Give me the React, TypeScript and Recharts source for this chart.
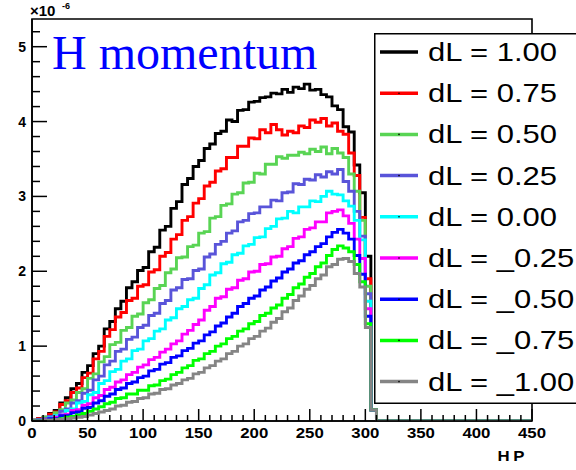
import React from 'react';
import {
  LineChart,
  Line,
  XAxis,
  YAxis,
  ReferenceArea,
  Legend
} from 'recharts';

// histogram bin low edges (width 5), plus the end of the range
const BIN_EDGES = [...Array.from({ length: 63 }, (_, i) => i * 5), 450];

// values in units of 1e-6, one per bin (0..310), then 0 at 450
const DL_P100 = [
  0.01, 0.03, 0.05, 0.10, 0.14, 0.24, 0.31, 0.43, 0.50, 0.65,
  0.74, 0.90, 1.00, 1.23, 1.33, 1.50, 1.60, 1.78, 1.86, 2.01,
  2.05, 2.26, 2.32, 2.55, 2.60, 2.84, 2.93, 3.16, 3.24, 3.40,
  3.48, 3.64, 3.70, 3.84, 3.87, 4.02, 4.00, 4.15, 4.16, 4.26,
  4.27, 4.32, 4.33, 4.38, 4.37, 4.43, 4.39, 4.46, 4.44, 4.50,
  4.42, 4.43, 4.36, 4.33, 4.21, 4.16, 3.93, 3.86, 3.42, 3.05,
  2.20, 0.15, 0, 0
];
const DL_P075 = [
  0.01, 0.03, 0.04, 0.09, 0.12, 0.22, 0.27, 0.38, 0.44, 0.58,
  0.64, 0.83, 0.93, 1.13, 1.22, 1.39, 1.45, 1.61, 1.64, 1.80,
  1.82, 1.99, 2.02, 2.20, 2.25, 2.43, 2.49, 2.68, 2.73, 2.91,
  2.97, 3.14, 3.19, 3.34, 3.37, 3.52, 3.52, 3.67, 3.67, 3.78,
  3.77, 3.89, 3.85, 3.96, 3.89, 3.82, 3.87, 3.85, 3.94, 3.92,
  4.02, 3.99, 4.04, 3.94, 3.98, 3.87, 3.83, 3.58, 3.28, 2.72,
  1.90, 0.15, 0, 0
];
const DL_P050 = [
  0.01, 0.02, 0.05, 0.06, 0.11, 0.15, 0.24, 0.28, 0.38, 0.43,
  0.57, 0.63, 0.79, 0.86, 1.02, 1.05, 1.21, 1.25, 1.40, 1.43,
  1.58, 1.62, 1.77, 1.81, 1.98, 2.03, 2.18, 2.19, 2.33, 2.35,
  2.51, 2.53, 2.71, 2.73, 2.88, 2.90, 3.03, 3.05, 3.18, 3.19,
  3.31, 3.30, 3.43, 3.43, 3.53, 3.51, 3.55, 3.55, 3.59, 3.57,
  3.63, 3.60, 3.66, 3.57, 3.64, 3.58, 3.52, 3.30, 3.07, 2.68,
  1.80, 0.15, 0, 0
];
const DL_P025 = [
  0.01, 0.01, 0.03, 0.06, 0.07, 0.13, 0.16, 0.24, 0.27, 0.37,
  0.41, 0.55, 0.60, 0.75, 0.80, 0.93, 0.96, 1.09, 1.12, 1.25,
  1.28, 1.41, 1.44, 1.57, 1.61, 1.75, 1.78, 1.89, 1.90, 2.01,
  2.03, 2.19, 2.23, 2.36, 2.40, 2.51, 2.54, 2.66, 2.68, 2.77,
  2.78, 2.86, 2.86, 2.95, 2.94, 3.05, 3.06, 3.17, 3.16, 3.23,
  3.22, 3.29, 3.26, 3.33, 3.30, 3.36, 3.20, 3.07, 2.80, 2.47,
  1.70, 0.15, 0, 0
];
const DL_000 = [
  0.00, 0.01, 0.02, 0.04, 0.07, 0.08, 0.14, 0.16, 0.24, 0.26,
  0.35, 0.38, 0.50, 0.54, 0.66, 0.69, 0.80, 0.83, 0.94, 0.96,
  1.07, 1.10, 1.20, 1.23, 1.35, 1.38, 1.50, 1.53, 1.62, 1.64,
  1.77, 1.82, 1.95, 1.98, 2.10, 2.12, 2.22, 2.24, 2.34, 2.36,
  2.45, 2.46, 2.57, 2.60, 2.70, 2.71, 2.80, 2.78, 2.86, 2.86,
  2.94, 2.93, 3.00, 3.07, 3.03, 3.02, 2.94, 2.87, 2.68, 2.42,
  1.60, 0.15, 0, 0
];
const DL_M025 = [
  0.00, 0.01, 0.02, 0.03, 0.05, 0.08, 0.09, 0.14, 0.15, 0.21,
  0.23, 0.31, 0.34, 0.42, 0.45, 0.52, 0.55, 0.62, 0.65, 0.72,
  0.75, 0.82, 0.85, 0.92, 0.96, 1.03, 1.07, 1.16, 1.21, 1.29,
  1.35, 1.48, 1.53, 1.64, 1.66, 1.76, 1.78, 1.88, 1.90, 1.99,
  2.00, 2.09, 2.10, 2.19, 2.20, 2.30, 2.33, 2.44, 2.46, 2.56,
  2.58, 2.66, 2.66, 2.78, 2.80, 2.82, 2.74, 2.64, 2.43, 2.17,
  1.50, 0.15, 0, 0
];
const DL_M050 = [
  0.00, 0.01, 0.01, 0.03, 0.03, 0.07, 0.07, 0.11, 0.12, 0.17,
  0.18, 0.24, 0.27, 0.33, 0.36, 0.42, 0.44, 0.50, 0.52, 0.58,
  0.60, 0.67, 0.69, 0.76, 0.78, 0.85, 0.87, 0.94, 0.97, 1.04,
  1.07, 1.15, 1.19, 1.27, 1.31, 1.39, 1.44, 1.53, 1.57, 1.64,
  1.67, 1.75, 1.79, 1.87, 1.91, 1.99, 2.03, 2.11, 2.14, 2.22,
  2.26, 2.33, 2.37, 2.46, 2.52, 2.56, 2.51, 2.43, 2.21, 1.96,
  1.40, 0.15, 0, 0
];
const DL_M075 = [
  0.00, 0.00, 0.01, 0.01, 0.02, 0.03, 0.05, 0.06, 0.08, 0.10,
  0.13, 0.16, 0.19, 0.23, 0.25, 0.30, 0.31, 0.36, 0.36, 0.41,
  0.41, 0.47, 0.48, 0.54, 0.56, 0.62, 0.65, 0.71, 0.74, 0.81,
  0.83, 0.90, 0.93, 1.00, 1.03, 1.10, 1.13, 1.20, 1.23, 1.30,
  1.33, 1.41, 1.44, 1.51, 1.55, 1.64, 1.69, 1.78, 1.83, 1.92,
  1.97, 2.06, 2.11, 2.21, 2.29, 2.34, 2.31, 2.26, 2.09, 1.86,
  1.30, 0.15, 0, 0
];
const DL_M100 = [
  0.00, 0.00, 0.01, 0.01, 0.02, 0.02, 0.03, 0.04, 0.05, 0.06,
  0.08, 0.10, 0.12, 0.14, 0.16, 0.20, 0.21, 0.25, 0.26, 0.30,
  0.31, 0.36, 0.37, 0.42, 0.43, 0.48, 0.50, 0.55, 0.57, 0.63,
  0.65, 0.71, 0.74, 0.80, 0.83, 0.90, 0.93, 1.00, 1.03, 1.10,
  1.13, 1.20, 1.24, 1.32, 1.37, 1.46, 1.51, 1.61, 1.67, 1.76,
  1.81, 1.90, 1.95, 2.06, 2.09, 2.16, 2.17, 2.13, 1.97, 1.79,
  1.25, 0.15, 0, 0
];

const SERIES = [
  { key: 'p100', name: 'dL = 1.00', color: '#000000', values: DL_P100 },
  { key: 'p075', name: 'dL = 0.75', color: '#ff0000', values: DL_P075 },
  { key: 'p050', name: 'dL = 0.50', color: '#59d454', values: DL_P050 },
  { key: 'p025', name: 'dL = 0.25', color: '#5954d9', values: DL_P025 },
  { key: 'z000', name: 'dL = 0.00', color: '#00ffff', values: DL_000 },
  { key: 'm025', name: 'dL = _0.25', color: '#ff00ff', values: DL_M025 },
  { key: 'm050', name: 'dL = _0.50', color: '#0000ff', values: DL_M050 },
  { key: 'm075', name: 'dL = _0.75', color: '#00ff00', values: DL_M075 },
  { key: 'm100', name: 'dL = _1.00', color: '#858585', values: DL_M100 }
];

const X_TICKS = Array.from({ length: 46 }, (_, i) => i * 10);
const Y_TICKS = Array.from({ length: 27 }, (_, i) => Math.round(i * 2) / 10);
const Y_MAX = 5.37;

const data = BIN_EDGES.map((x, i) => {
  const row: Record<string, number> = { x };
  SERIES.forEach(s => { row[s.key] = s.values[i]; });
  return row;
});

const TICK_FONT = '"Liberation Sans", Arial, sans-serif';

const XTick = (props: any) => {
  const { x, y, payload } = props;
  const v = payload.value;
  const major = v % 50 === 0;
  return (
    <g>
      <line x1={x} x2={x} y1={y} y2={y - (major ? 12 : 6)} stroke="#000" strokeWidth={1.5} />
      {major && (
        <text
          transform={`translate(${x},${y + 17}) scale(1.2,1)`}
          textAnchor="middle"
          fontFamily={TICK_FONT}
          fontWeight="bold"
          fontSize={14}
          fill="#000"
        >
          {v}
        </text>
      )}
    </g>
  );
};

const YTick = (props: any) => {
  const { x, y, payload } = props;
  const v = payload.value;
  const major = Math.abs(v - Math.round(v)) < 1e-6;
  return (
    <g>
      <line x1={x} x2={x + (major ? 15 : 8)} y1={y} y2={y} stroke="#000" strokeWidth={1.5} />
      {major && (
        <text
          x={x - 6}
          y={y + 5}
          textAnchor="end"
          fontFamily={TICK_FONT}
          fontWeight="bold"
          fontSize={14}
          fill="#000"
        >
          {Math.round(v)}
        </text>
      )}
    </g>
  );
};

const LegendBox = () => (
  <svg width={210} height={372} style={{ display: 'block' }}>
    <rect x={0.75} y={0.75} width={230} height={369.5} fill="#fff" stroke="#000" strokeWidth={1.5} />
    {SERIES.map((s, i) => {
      const cy = 19 + i * 41.2;
      return (
        <g key={s.key}>
          <line x1={6} x2={44} y1={cy} y2={cy} stroke={s.color} strokeWidth={3.5} />
          <circle cx={25} cy={cy} r={0.8} fill="#000" />
          <text
            transform={`translate(54,${cy + 9}) scale(1.24,1)`}
            fontFamily={TICK_FONT}
            fontSize={25}
            fill="#000"
          >
            {s.name}
          </text>
        </g>
      );
    })}
  </svg>
);

const App: React.FC = () => {
  return (
    <div
      style={{
        position: 'absolute',
        left: 0,
        top: 0,
        width: 576,
        height: 470,
        overflow: 'hidden',
        background: '#fff'
      }}
    >
      <LineChart
        width={576}
        height={470}
        data={data}
        margin={{ top: 19, right: 44, bottom: 19, left: 6 }}
      >
        <XAxis
          dataKey="x"
          type="number"
          domain={[0, 450]}
          ticks={X_TICKS}
          interval={0}
          height={30}
          tickSize={0}
          tickMargin={0}
          tickLine={false}
          axisLine={{ stroke: '#000', strokeWidth: 1.6 }}
          tick={<XTick />}
          allowDataOverflow
        />
        <YAxis
          type="number"
          domain={[0, Y_MAX]}
          ticks={Y_TICKS}
          interval={0}
          width={26}
          tickSize={0}
          tickMargin={0}
          tickLine={false}
          axisLine={{ stroke: '#000', strokeWidth: 1.6 }}
          tick={<YTick />}
          allowDataOverflow
        />
        <ReferenceArea
          x1={0}
          x2={450}
          y1={0}
          y2={Y_MAX}
          fill="none"
          fillOpacity={0}
          stroke="#000"
          strokeWidth={1.6}
          ifOverflow="visible"
        />
        {SERIES.map(s => (
          <Line
            key={s.key}
            type="stepAfter"
            dataKey={s.key}
            name={s.name}
            stroke={s.color}
            strokeWidth={2.9}
            dot={false}
            activeDot={false}
            isAnimationActive={false}
          />
        ))}
        <Legend
          layout="horizontal"
          verticalAlign="middle"
          align="center"
          wrapperStyle={{ left: 374, top: 33, width: 210, height: 372 }}
          content={() => <LegendBox />}
        />
      </LineChart>
      <svg
        width={576}
        height={470}
        style={{ position: 'absolute', left: 0, top: 0, pointerEvents: 'none' }}
      >
        <text x={52} y={69} fontFamily='"Liberation Serif", "Times New Roman", serif' fontSize={48} fill="#0000ff">
          H momentum
        </text>
        <text x={30} y={16} fontFamily={TICK_FONT} fontSize={15} fontWeight="bold" fill="#000">
          ×10
        </text>
        <text x={62} y={9} fontFamily={TICK_FONT} fontSize={9} fontWeight="bold" fill="#000">
          -6
        </text>
        <text
          transform="translate(528,461) scale(1.2,1)"
          textAnchor="end"
          fontFamily={TICK_FONT}
          fontSize={14}
          fontWeight="bold"
          fill="#000"
          letterSpacing={3}
        >
          HP
        </text>
      </svg>
    </div>
  );
};

export default App;
